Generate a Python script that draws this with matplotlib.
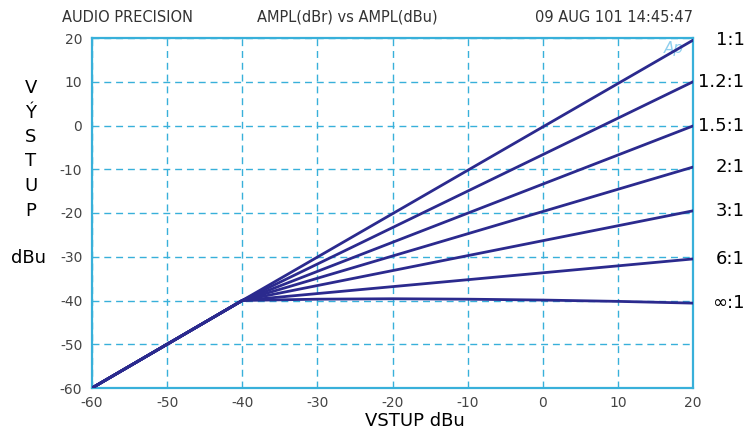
"""Compressor transfer curves (VSTUP vs VYSTUP) in the Audio Precision style."""

import matplotlib

matplotlib.use("Agg")

import matplotlib.pyplot as plt


# input level points (dBu)
x_knee = [-60, -40, 20]
x_inf = [-60, -40, -30, -20, -10, 0, 10, 20]

# output level for each ratio
ratio_labels = ["1:1", "1.2:1", "1.5:1", "2:1", "3:1", "6:1", "∞:1"]
y_1 = [-60, -40, 19.5]
y_1_2 = [-60, -40, 10.0]
y_1_5 = [-60, -40, -0.1]
y_2 = [-60, -40, -9.5]
y_3 = [-60, -40, -19.5]
y_6 = [-60, -40, -30.5]
y_inf = [-60, -40, -39.7, -39.6, -39.7, -39.9, -40.2, -40.6]

x_ticks = [-60, -50, -40, -30, -20, -10, 0, 10, 20]
y_ticks = [-60, -50, -40, -30, -20, -10, 0, 10, 20]

LINE = "#2b2a8e"
GRID = "#38b0da"
TICK = "#444444"

fig = plt.figure(figsize=(7.47, 4.30), dpi=100)
ax = fig.add_axes([92 / 747, 1 - 388 / 430, 601 / 747, 350 / 430])

series = [(x_knee, y_1), (x_knee, y_1_2), (x_knee, y_1_5), (x_knee, y_2),
          (x_knee, y_3), (x_knee, y_6), (x_inf, y_inf)]
for xs, ys in series:
    ax.plot(xs, ys, color=LINE, lw=2.0, solid_capstyle="round", zorder=3)

ax.set_xlim(-60, 20)
ax.set_ylim(-60, 20)
ax.set_xticks(x_ticks)
ax.set_yticks(y_ticks)
ax.set_xticklabels([str(v) for v in x_ticks], fontsize=10, color=TICK)
ax.set_yticklabels([str(v) for v in y_ticks], fontsize=10, color=TICK)
ax.tick_params(axis="y", length=0, pad=7)
ax.tick_params(axis="x", length=0, pad=6)
ax.grid(True, color=GRID, ls=(0, (5, 3.5)), lw=1.0)
for spine in ax.spines.values():
    spine.set_color(GRID)
    spine.set_linewidth(1.6)

# right-hand ratio labels sit next to the line ends, right-aligned near the edge
for label, (xs, ys) in zip(ratio_labels, series):
    ax.annotate(label, xy=(20, ys[-1]), xytext=(37, 0), textcoords="offset points",
                ha="right", va="center", fontsize=13, annotation_clip=False)

ax.text(17.5, 17.5, "Ap", color="#8fcfee", fontsize=11, style="italic",
        ha="center", va="center", zorder=2)

# titles across the top
fig.text(62 / 747, 1 - 17 / 430, "AUDIO PRECISION", fontsize=10.5, color="#333333", va="center")
fig.text(257 / 747, 1 - 17 / 430, "AMPL(dBr) vs AMPL(dBu)", fontsize=10.5, color="#333333", va="center")
fig.text(693 / 747, 1 - 17 / 430, "09 AUG 101 14:45:47", fontsize=10.5, color="#333333",
         va="center", ha="right")

# stacked y-axis caption
for i, ch in enumerate("VÝSTUP"):
    fig.text(31 / 747, 1 - (88 + i * 24.5) / 430, ch, fontsize=13, ha="center", va="center")
fig.text(28 / 747, 1 - 258 / 430, "dBu", fontsize=13, ha="center", va="center")

fig.text(415 / 747, 1 - 421 / 430, "VSTUP dBu", fontsize=13, ha="center", va="center")

fig.savefig("out.png", dpi=100)
